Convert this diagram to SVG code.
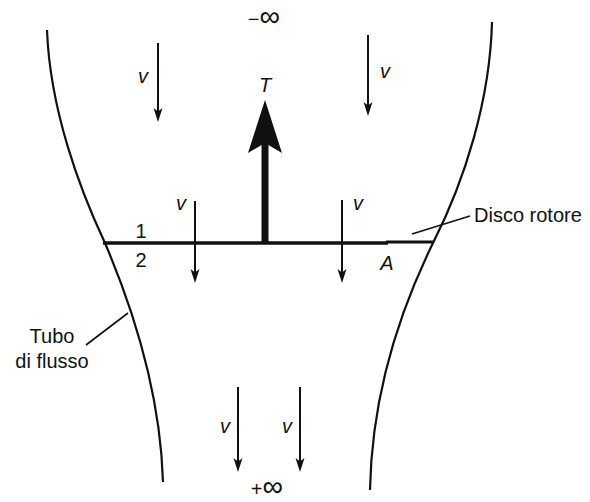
<svg xmlns="http://www.w3.org/2000/svg" width="590" height="502" viewBox="0 0 590 502">
<style>
.t{font-family:"Liberation Sans",Arial,sans-serif;font-size:20px;fill:#111}
.i{font-style:italic}
.inf{font-family:"Liberation Sans",Arial,sans-serif;font-size:20px;fill:#111}
.big{font-size:29px}
.c{stroke:#111;fill:none;stroke-width:2.2}
.ln{stroke:#111;fill:none}
</style>
<defs>
<marker id="ah" markerUnits="userSpaceOnUse" markerWidth="18" markerHeight="12" viewBox="-16 -6 18 12" refX="-7" refY="0" orient="auto">
<path d="M0,0 L-14,-4.5 L-10.5,0 L-14,4.5 Z" fill="#111"/>
</marker>
</defs>
<rect width="590" height="502" fill="#fff"/>
<g id="tubo">
<path class="c" d="M47,30 C50,110 80,190 105,243 C125,290 160,380 163,482"/>
<path class="c" d="M492,22 C490,100 465,180 433,243 C410,290 372,380 370,490"/>
</g>
<g id="disco">
<line class="ln" x1="103" y1="243" x2="388" y2="243" stroke-width="3.6"/>
<line class="ln" x1="386" y1="242" x2="433" y2="242" stroke-width="3.2"/>
</g>
<g id="connectors">
<line class="ln" stroke-width="2" x1="158" y1="43" x2="158" y2="115" marker-end="url(#ah)"/>
<line class="ln" stroke-width="2" x1="368" y1="35" x2="368" y2="109" marker-end="url(#ah)"/>
<line class="ln" stroke-width="2" x1="195" y1="201" x2="195" y2="276" marker-end="url(#ah)"/>
<line class="ln" stroke-width="2" x1="342" y1="200" x2="342" y2="276" marker-end="url(#ah)"/>
<line class="ln" stroke-width="2" x1="238" y1="387" x2="238" y2="465" marker-end="url(#ah)"/>
<line class="ln" stroke-width="2" x1="300" y1="387" x2="300" y2="465" marker-end="url(#ah)"/>
<line class="ln" stroke-width="1.6" x1="412" y1="234" x2="470" y2="216"/>
<line class="ln" stroke-width="1.6" x1="86" y1="345" x2="128" y2="313"/>
</g>
<g id="spinta">
<line class="ln" x1="265" y1="243" x2="265" y2="140" stroke-width="7"/>
<path d="M265,100 L282,153 L265,143 L248,153 Z" fill="#111"/>
<text class="t i" x="265" y="92" text-anchor="middle">T</text>
</g>
<g id="labels">
<text class="inf" x="264" y="26" text-anchor="middle">−<tspan class="big">∞</tspan></text>
<text class="inf" x="267" y="496" text-anchor="middle">+<tspan class="big">∞</tspan></text>
<text class="t i" x="143" y="83" text-anchor="middle" font-size="19">v</text>
<text class="t i" x="385" y="78" text-anchor="middle" font-size="19">v</text>
<text class="t i" x="181" y="210" text-anchor="middle" font-size="19">v</text>
<text class="t i" x="358" y="210" text-anchor="middle" font-size="19">v</text>
<text class="t i" x="225" y="433" text-anchor="middle" font-size="19">v</text>
<text class="t i" x="287" y="433" text-anchor="middle" font-size="19">v</text>
<text class="t" x="141" y="238" text-anchor="middle" font-size="18">1</text>
<text class="t" x="141" y="267" text-anchor="middle" font-size="18">2</text>
<text class="t i" x="387" y="270" text-anchor="middle" font-size="19">A</text>
<text class="t" x="474" y="222">Disco rotore</text>
<text class="t" x="52" y="343" text-anchor="middle">Tubo</text>
<text class="t" x="52" y="368" text-anchor="middle">di flusso</text>
</g>
</svg>
